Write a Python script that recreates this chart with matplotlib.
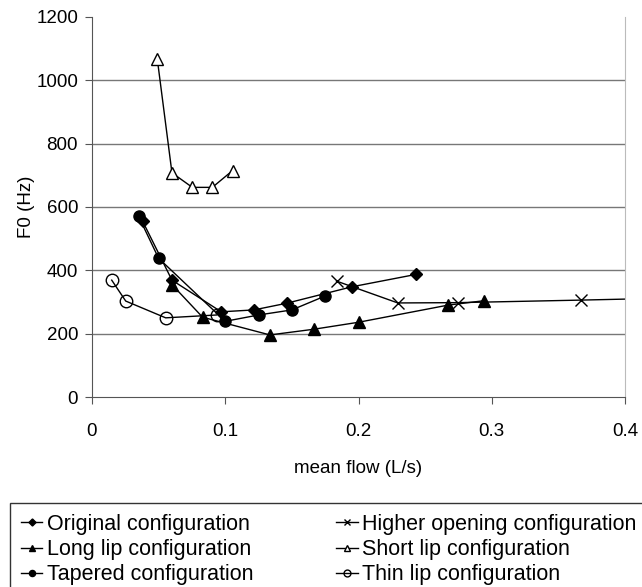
import matplotlib
matplotlib.use("Agg")
import matplotlib.pyplot as plt

plt.rcParams['font.family'] = ['Liberation Sans', 'DejaVu Sans']

orig_x = [0.038, 0.060, 0.097, 0.1215, 0.146, 0.195, 0.243]
orig_y = [555, 369, 269, 275, 296, 348, 387]

long_x = [0.060, 0.083, 0.1335, 0.1665, 0.200, 0.267, 0.294]
long_y = [355, 252, 196, 214, 236, 290, 304]

taper_x = [0.035, 0.050, 0.100, 0.125, 0.150, 0.175]
taper_y = [570, 438, 239, 259, 275, 319]

high_x = [0.1835, 0.2295, 0.275, 0.367, 0.43]
high_y = [366, 297, 298, 306, 312]

short_x = [0.049, 0.060, 0.0753, 0.0903, 0.1055]
short_y = [1067, 708, 662, 662, 715]

thin_x = [0.0148, 0.0253, 0.0553, 0.0935]
thin_y = [369, 303, 250, 259]

xticks = [0, 0.1, 0.2, 0.3, 0.4]
xticklabels = ['0', '0.1', '0.2', '0.3', '0.4']
yticks = [0, 200, 400, 600, 800, 1000, 1200]

fig = plt.figure(figsize=(6.42, 5.87), dpi=100)
ax = fig.add_axes([92/642, 1-397/587, (625-92)/642, (397-17)/587])

lw = 1.0
ax.plot(orig_x, orig_y, color='black', lw=lw, marker='D', ms=6.5, mfc='black', mec='black', label='Original configuration')
ax.plot(long_x, long_y, color='black', lw=lw, marker='^', ms=8.5, mfc='black', mec='black', label='Long lip configuration')
ax.plot(taper_x, taper_y, color='black', lw=lw, marker='o', ms=8, mfc='black', mec='black', label='Tapered configuration')
ax.plot(high_x, high_y, color='black', lw=lw, marker='x', ms=9, mew=1.0, label='Higher opening configuration')
ax.plot(short_x, short_y, color='black', lw=lw, marker='^', ms=9, mfc='white', mec='black', mew=1.0, label='Short lip configuration')
ax.plot(thin_x, thin_y, color='black', lw=lw, marker='o', ms=9, mfc='none', mec='black', mew=1.0, label='Thin lip configuration')

ax.set_xlim(0, 0.4)
ax.set_ylim(0, 1200)
ax.set_xticks(xticks)
ax.set_xticklabels(xticklabels)
ax.set_yticks(yticks)
for y in yticks[1:-1]:
    ax.axhline(y, color='#777777', lw=1.0, zorder=0)

ax.spines['top'].set_visible(False)
ax.spines['right'].set_color('#bbbbbb')
ax.spines['right'].set_linewidth(0.8)
ax.spines['left'].set_color('#555555')
ax.spines['bottom'].set_color('#555555')
ax.tick_params(axis='both', direction='out', length=5, width=0.8, color='#555555', labelsize=13.5)
ax.tick_params(axis='x', pad=14)
ax.tick_params(axis='y', pad=5)
ax.set_xlabel('mean flow (L/s)', fontsize=13.5, labelpad=14)
ax.set_ylabel('F0 (Hz)', fontsize=13.5, labelpad=1)

handles, labels = ax.get_legend_handles_labels()
leg = fig.legend(handles, labels, ncol=2, loc='upper left', bbox_to_anchor=(10/642, 1-503/587),
                 frameon=True, fancybox=False, edgecolor='black', fontsize=15.5,
                 handlelength=1.0, handletextpad=0.2, columnspacing=3.85, labelspacing=0.2,
                 borderpad=0.5, borderaxespad=0, markerscale=0.55)
leg.get_frame().set_linewidth(1.0)

fig.savefig('out.png', dpi=100)
